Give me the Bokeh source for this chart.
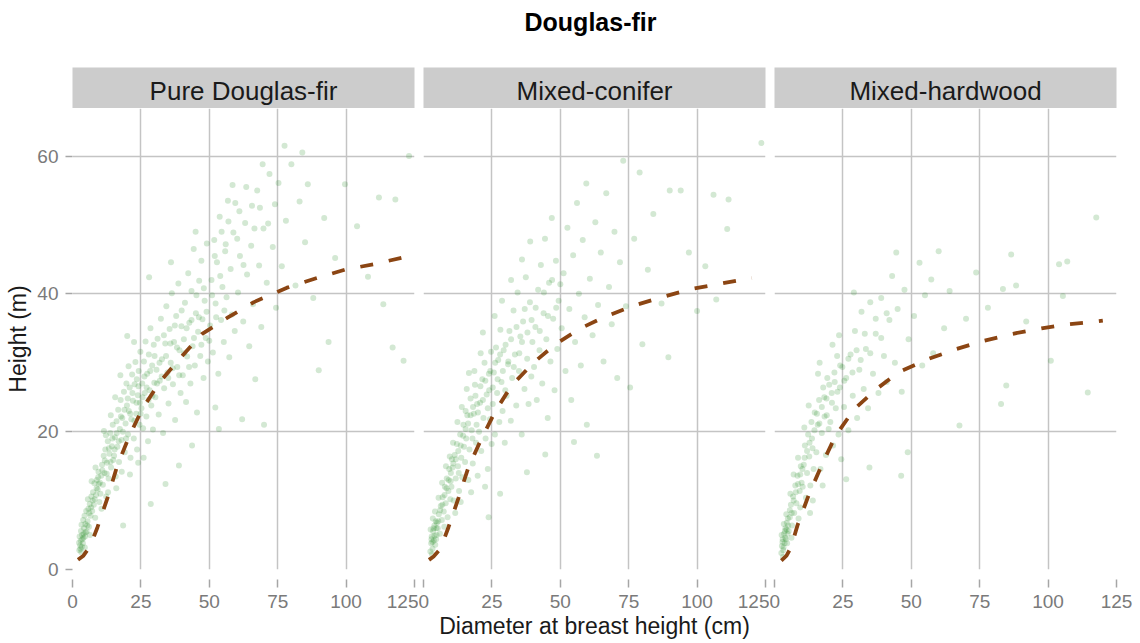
from bokeh.plotting import figure
from bokeh.layouts import column, row
from bokeh.models import Range1d, FixedTicker, Label
from bokeh.embed import file_html
from bokeh.resources import INLINE

TITLE = "Douglas-fir"
facets = ["Pure Douglas-fir", "Mixed-conifer", "Mixed-hardwood"]
x_ticks = [0, 25, 50, 75, 100, 125]
y_ticks = [0, 20, 40, 60]
x_title = "Diameter at breast height (cm)"
y_title = "Height (m)"

pure_points = [
    (2.5, 2.8), (2.8, 3.5), (3.0, 4.2), (3.2, 2.5), (3.5, 5.0), (3.8, 3.8), (4.0, 4.6), (4.2, 6.0), (4.5, 3.2), (4.8, 5.4),
    (2.6, 4.8), (3.3, 6.5), (3.9, 7.2), (4.4, 7.8), (2.9, 3.0), (3.6, 4.4), (4.7, 6.6), (2.4, 3.9), (5.0, 8.5), (3.1, 5.6),
    (5.2, 5.5), (5.5, 7.0), (5.8, 8.8), (6.0, 6.2), (6.3, 9.5), (6.6, 7.8), (6.9, 10.6), (7.2, 8.5), (7.5, 11.2), (7.8, 9.4),
    (8.0, 12.5), (8.3, 7.5), (8.6, 10.8), (8.9, 13.0), (9.2, 11.6), (9.5, 14.2), (9.8, 9.8), (5.6, 10.2), (7.0, 12.8), (8.4, 14.8),
    (9.6, 12.4), (6.4, 5.0),
    (10.2, 11.0), (10.5, 13.6), (10.8, 15.2), (11.1, 12.3), (11.4, 16.5), (11.7, 14.0), (12.0, 17.4), (12.3, 10.6), (12.6, 15.5),
    (12.9, 18.6), (13.2, 13.2), (13.5, 16.8), (13.8, 19.8), (14.1, 14.8), (14.4, 17.9), (14.7, 21.0), (11.5, 20.1), (10.6, 8.8),
    (13.0, 11.2), (14.9, 15.9), (12.2, 19.5), (14.0, 22.4),
    (15.2, 16.5), (15.5, 19.2), (15.8, 13.5), (16.1, 21.5), (16.4, 17.8), (16.7, 23.2), (17.0, 15.6), (17.3, 20.4), (17.6, 24.6),
    (17.9, 18.8), (18.2, 22.0), (18.5, 6.4), (18.8, 25.8), (19.1, 17.0), (19.4, 21.2), (19.7, 27.0), (16.0, 11.8), (18.0, 14.2),
    (19.9, 23.8), (15.6, 25.0), (17.5, 28.2), (20.0, 33.9),
    (20.3, 19.6), (20.6, 23.0), (20.9, 26.4), (21.2, 16.2), (21.5, 21.8), (21.8, 28.3), (22.1, 24.5), (22.4, 19.0), (22.7, 26.9),
    (23.0, 30.1), (23.3, 22.6), (23.6, 17.4), (23.9, 25.3), (24.2, 28.8), (24.5, 21.0), (24.8, 31.6), (21.0, 13.8), (22.5, 33.0),
    (24.0, 15.5), (23.5, 27.6), (20.5, 29.5), (24.6, 24.2),
    (25.2, 23.4), (25.5, 27.0), (25.8, 20.5), (26.1, 30.2), (26.4, 25.6), (26.7, 33.1), (27.0, 22.2), (27.3, 28.4), (27.6, 18.6),
    (27.9, 31.2), (28.2, 26.0), (28.5, 35.0), (28.8, 23.8), (29.1, 29.6), (29.4, 20.3), (29.7, 32.6), (28.0, 42.4), (28.6, 9.5),
    (26.0, 16.2), (29.9, 27.1),
    (30.3, 25.0), (30.7, 29.0), (31.1, 33.5), (31.5, 22.5), (31.9, 27.4), (32.3, 36.4), (32.7, 30.5), (33.1, 19.8), (33.5, 26.3),
    (33.9, 32.8), (34.0, 12.4), (34.3, 38.2), (34.7, 28.6), (35.1, 24.1), (35.5, 34.9), (35.9, 30.0), (36.3, 40.1), (36.7, 26.9),
    (37.1, 33.0), (37.5, 21.7), (37.9, 36.8), (38.3, 29.4), (38.7, 41.5), (38.9, 15.1), (39.1, 31.8), (39.5, 25.6), (39.8, 35.3),
    (36.0, 44.6),
    (40.3, 28.2), (40.7, 33.4), (41.1, 38.7), (41.5, 24.3), (41.9, 30.9), (42.3, 43.0), (42.7, 35.8), (43.1, 27.0), (43.5, 40.4),
    (43.7, 18.0), (43.9, 32.4), (44.3, 46.5), (44.7, 29.6), (45.0, 49.0), (45.1, 37.2), (45.5, 22.8), (45.9, 34.5), (46.3, 41.9),
    (46.7, 31.0), (47.1, 44.8), (47.5, 36.3), (47.9, 27.8), (48.3, 39.0), (48.7, 33.6), (49.1, 47.3), (49.5, 30.2),
    (50.3, 35.4), (50.8, 42.0), (51.3, 31.5), (51.8, 47.8), (52.2, 23.5), (52.3, 38.6), (52.8, 44.6), (53.3, 28.4), (53.5, 20.4),
    (53.8, 51.2), (54.3, 36.2), (54.8, 41.0), (55.3, 33.0), (55.8, 46.2), (56.3, 39.5), (56.8, 53.5), (57.3, 30.8), (57.8, 43.6),
    (58.3, 37.0), (58.8, 48.9), (59.5, 53.2), (59.3, 34.6),
    (52.0, 45.5), (54.5, 49.0), (57.0, 50.5), (61.0, 52.0), (63.5, 55.5), (66.5, 49.5), (68.5, 52.5), (71.5, 50.2), (74.0, 53.0),
    (58.5, 55.8), (62.5, 44.2), (69.5, 58.8), (77.5, 61.5), (84.0, 60.5), (56.0, 47.2), (60.2, 48.0),
    (60.5, 40.2), (61.2, 45.5), (62.0, 21.8), (62.4, 36.0), (63.1, 50.3), (63.8, 42.8), (64.6, 32.4), (65.3, 47.0), (65.6, 52.8),
    (66.0, 38.5), (66.8, 27.6), (67.5, 55.0), (68.2, 44.1), (69.0, 35.2), (69.8, 49.5), (70.0, 21.0), (71.0, 41.6), (72.0, 57.4),
    (73.2, 46.8), (74.4, 38.0), (75.3, 56.1),
    (76.5, 44.0), (78.0, 50.6), (80.0, 58.8), (81.5, 41.2), (83.0, 53.4), (85.0, 47.5), (86.0, 55.9), (88.0, 39.4), (90.0, 28.9),
    (92.0, 51.0), (93.6, 33.0), (96.0, 45.2), (99.6, 55.9), (104.0, 49.8), (108.0, 42.5), (112.0, 54.0), (113.6, 38.5),
    (117.0, 32.2), (118.0, 53.7), (121.0, 30.3), (123.0, 60.0),
    (3.4, 3.3), (4.1, 5.2), (4.6, 4.8), (5.4, 6.4), (6.1, 8.2), (6.8, 9.0), (7.4, 10.0), (8.1, 10.2), (8.8, 11.8), (9.4, 13.4),
    (10.0, 12.6), (10.9, 14.4), (11.8, 15.8), (12.5, 13.9), (13.3, 17.6), (13.9, 15.6), (14.6, 19.0), (15.4, 17.4), (16.2, 19.8),
    (16.9, 18.6), (17.7, 22.2), (18.4, 20.0), (19.0, 23.2), (19.6, 19.0), (20.2, 24.8), (21.1, 22.6), (21.9, 25.6), (22.6, 21.6),
    (23.4, 24.2), (24.1, 26.6), (24.9, 22.6), (25.6, 25.0), (26.3, 28.0), (27.1, 26.4), (27.8, 24.6), (28.4, 28.8), (29.2, 25.2),
    (30.0, 31.0), (30.9, 27.0), (31.8, 30.0), (32.6, 28.0), (33.4, 34.0), (34.2, 31.0), (35.0, 27.8), (35.8, 32.8), (36.6, 29.2),
    (37.4, 35.4), (38.2, 32.2), (39.0, 28.2), (39.9, 37.6), (40.8, 31.4), (41.7, 35.0), (42.6, 29.4), (43.5, 36.2), (44.4, 33.6),
    (45.3, 39.8), (46.2, 36.6), (47.1, 32.6), (48.0, 40.8), (49.0, 37.4), (50.0, 33.2), (51.0, 39.8), (52.5, 36.6), (54.0, 42.6),
    (55.5, 37.6),
]

conifer_points = [
    (2.5, 2.6), (2.8, 3.8), (3.0, 4.8), (3.3, 3.0), (3.5, 5.6), (3.8, 4.2), (4.0, 6.4), (4.3, 3.6), (4.5, 7.0), (4.8, 5.0),
    (2.6, 5.8), (3.4, 7.4), (4.2, 8.4), (4.9, 6.8), (3.1, 2.2), (3.7, 6.0), (2.9, 4.4), (4.6, 4.4),
    (5.2, 6.0), (5.6, 8.0), (6.0, 5.2), (6.3, 9.2), (6.7, 7.2), (7.0, 10.5), (7.4, 8.4), (7.8, 12.0), (8.1, 9.6), (8.5, 13.2),
    (8.8, 7.6), (9.1, 11.4), (9.4, 14.6), (9.8, 10.2), (5.5, 10.4), (6.8, 12.6), (8.2, 15.0), (9.6, 16.4), (7.6, 6.2), (9.9, 12.8),
    (10.2, 12.0), (10.6, 14.8), (11.0, 10.0), (11.4, 16.6), (11.8, 13.2), (12.2, 18.2), (12.6, 15.0), (13.0, 11.4), (13.4, 19.6),
    (13.8, 16.2), (14.2, 13.4), (14.6, 21.0), (10.8, 18.4), (12.4, 21.4), (14.0, 23.6), (11.6, 8.2), (13.6, 9.8), (14.8, 17.8),
    (12.9, 14.0), (10.4, 16.0),
    (15.2, 15.6), (15.6, 19.0), (16.0, 22.4), (16.4, 13.0), (16.8, 17.4), (17.2, 24.8), (17.6, 20.2), (18.0, 15.4), (18.4, 22.6),
    (18.8, 26.8), (19.2, 18.4), (19.6, 24.0), (15.8, 26.2), (17.4, 11.2), (18.6, 28.8), (19.8, 13.6), (16.6, 28.5), (19.4, 21.0),
    (15.4, 23.0), (17.9, 19.0),
    (20.3, 20.0), (20.7, 24.2), (21.1, 17.2), (21.5, 27.6), (21.9, 22.0), (22.3, 30.0), (22.7, 19.0), (23.1, 25.4), (23.5, 14.6),
    (23.9, 28.4), (23.8, 7.6), (24.3, 21.8), (24.7, 31.6), (20.9, 31.4), (22.5, 12.0), (24.0, 26.0), (21.7, 34.4), (24.9, 18.2),
    (25.3, 24.0), (25.7, 28.6), (26.1, 19.6), (26.5, 32.2), (26.9, 25.6), (27.3, 30.4), (27.7, 21.4), (28.0, 11.0), (28.1, 34.8),
    (28.5, 27.2), (28.9, 23.0), (29.3, 31.8), (29.7, 18.4), (26.0, 36.8), (28.7, 39.0), (29.9, 26.0),
    (30.4, 25.2), (30.9, 29.8), (31.4, 34.6), (31.9, 21.6), (32.4, 27.8), (32.9, 37.6), (33.4, 31.2), (33.9, 23.8), (34.4, 40.2),
    (34.9, 28.8), (35.4, 33.8), (35.9, 19.6), (36.4, 36.0), (36.9, 26.2), (37.4, 42.4), (37.8, 14.1), (37.9, 30.6), (38.4, 24.0),
    (38.9, 38.8), (39.4, 28.0), (39.8, 33.0), (32.0, 42.0), (36.0, 45.0), (39.0, 47.6),
    (40.4, 29.4), (40.9, 35.2), (41.4, 24.6), (41.9, 40.6), (42.4, 31.8), (42.9, 44.2), (43.4, 27.0), (43.9, 37.2), (44.5, 16.7),
    (44.4, 48.0), (44.9, 33.4), (45.4, 22.0), (45.9, 41.6), (46.4, 30.2), (46.9, 51.0), (47.4, 36.4), (47.9, 26.0), (48.4, 44.8),
    (48.9, 32.0), (49.4, 39.0),
    (50.5, 35.0), (51.2, 43.0), (51.9, 28.8), (52.6, 49.6), (53.3, 37.8), (54.0, 24.6), (54.7, 45.6), (55.4, 33.0), (56.1, 53.2),
    (56.8, 40.0), (57.5, 29.6), (58.2, 47.8), (58.9, 36.6), (59.7, 21.0), (59.5, 56.0), (55.0, 18.5),
    (60.8, 42.2), (61.8, 34.0), (62.8, 50.4), (63.4, 16.5), (63.8, 38.4), (64.8, 46.0), (65.8, 30.2), (66.8, 54.6), (67.8, 41.0),
    (68.8, 35.6), (69.8, 49.0), (70.8, 27.8), (71.8, 44.6), (73.0, 59.3), (74.0, 38.2), (75.5, 26.4),
    (77.0, 48.0), (79.0, 57.6), (80.0, 32.7), (82.0, 43.5), (84.0, 51.6), (87.0, 38.6), (89.5, 30.8), (90.0, 55.0), (94.0, 55.0),
    (97.0, 46.0), (100.0, 37.5), (103.0, 44.0), (106.0, 54.4), (107.0, 39.2), (111.0, 49.4), (111.5, 53.7), (123.5, 61.9),
    (3.3, 4.0), (4.0, 4.9), (4.7, 6.0), (5.4, 7.0), (6.1, 8.6), (6.9, 9.4), (7.7, 10.8), (8.4, 11.8), (9.2, 13.0), (10.0, 14.0),
    (10.9, 15.4), (11.8, 16.0), (12.7, 17.2), (13.6, 18.0), (14.5, 19.4), (15.4, 20.4), (16.3, 21.2), (17.2, 22.4), (18.1, 23.6),
    (19.0, 25.2), (19.9, 22.8), (20.8, 26.6), (21.7, 24.6), (22.6, 27.4), (23.5, 23.4), (24.4, 28.8), (25.3, 26.4), (26.2, 30.0),
    (27.1, 27.6), (28.0, 31.2), (29.0, 28.8), (30.0, 32.6), (31.0, 30.2), (32.0, 33.4), (33.0, 29.4), (34.0, 35.2), (35.0, 31.4),
    (36.0, 33.0), (37.0, 37.8), (38.0, 34.4), (39.5, 36.2), (41.0, 38.0), (42.5, 34.6), (44.0, 40.2), (45.5, 36.8), (47.0, 42.0),
    (48.5, 38.0), (50.0, 41.4),
]

hardwood_points = [
    (2.5, 2.4), (2.7, 3.4), (3.0, 4.4), (3.2, 2.8), (3.5, 5.2), (3.7, 3.8), (4.0, 6.0), (4.2, 4.4), (4.5, 6.8), (4.8, 5.2),
    (2.6, 5.0), (3.4, 6.6), (4.3, 8.0), (4.9, 7.4), (3.1, 1.8), (3.8, 5.6), (2.9, 4.0), (4.6, 3.8),
    (5.2, 5.6), (5.6, 7.6), (6.0, 9.4), (6.4, 6.4), (6.8, 10.6), (7.2, 8.2), (7.6, 12.2), (8.0, 9.6), (8.4, 13.6), (8.8, 7.4),
    (9.2, 11.4), (9.6, 15.0), (5.8, 11.0), (7.0, 13.8), (8.6, 16.2), (9.9, 12.6), (6.2, 4.6), (9.4, 9.0),
    (10.3, 12.0), (10.7, 15.2), (11.1, 18.0), (11.5, 10.4), (11.9, 14.0), (12.3, 19.6), (12.7, 16.4), (13.1, 12.2), (13.5, 21.4),
    (13.9, 17.6), (14.3, 14.6), (14.7, 22.8), (10.9, 20.6), (12.5, 23.8), (14.0, 10.0), (13.0, 8.2),
    (15.3, 17.0), (15.8, 21.0), (16.3, 24.6), (16.8, 14.6), (17.3, 19.8), (17.8, 26.4), (18.3, 22.2), (18.8, 16.6), (19.3, 27.8),
    (19.8, 20.4), (15.9, 28.4), (17.6, 12.2), (19.0, 24.8), (16.5, 30.0),
    (20.4, 21.4), (20.9, 25.6), (21.4, 18.0), (21.9, 28.6), (22.4, 23.4), (22.9, 31.0), (23.4, 19.6), (23.9, 26.4), (24.4, 16.0),
    (24.8, 29.4), (21.2, 32.6), (23.6, 34.0),
    (25.4, 23.6), (26.2, 27.8), (26.2, 13.1), (27.0, 20.2), (27.8, 31.2), (28.6, 25.2), (29.4, 34.6), (30.2, 22.0), (31.0, 29.0),
    (31.8, 37.4), (32.6, 26.2), (33.4, 32.0), (34.2, 23.4), (34.7, 14.8), (35.0, 38.8), (29.0, 40.2),
    (36.0, 28.4), (37.0, 34.2), (38.0, 25.6), (39.0, 39.4), (40.0, 31.0), (41.0, 27.2), (42.0, 36.2), (43.0, 42.6), (44.0, 30.0),
    (45.0, 37.8), (46.3, 13.6), (46.5, 25.8), (47.5, 40.6), (48.7, 17.0), (49.0, 33.4), (44.5, 46.0),
    (51.0, 36.8), (53.0, 44.5), (54.0, 29.6), (55.0, 39.8), (57.3, 42.1), (58.0, 31.4), (60.0, 46.2), (62.0, 35.0), (64.0, 40.4),
    (67.6, 20.9), (70.0, 36.4), (73.7, 43.1),
    (78.0, 38.0), (82.8, 24.0), (83.5, 40.7), (84.7, 26.7), (86.5, 45.7), (88.3, 41.2), (92.0, 36.0), (101.0, 30.3),
    (104.0, 44.3), (105.4, 39.7), (107.0, 44.7), (114.5, 25.7), (117.6, 51.1),
    (3.3, 3.2), (3.9, 4.6), (4.4, 5.8), (5.0, 6.4), (5.6, 8.6), (6.3, 8.2), (7.0, 10.0), (7.8, 11.2), (8.6, 12.4), (9.4, 13.8),
    (10.2, 14.6), (11.0, 16.2), (11.9, 17.2), (12.8, 18.4), (13.7, 19.0), (14.6, 20.2), (15.5, 22.6), (16.4, 21.2), (17.3, 23.6),
    (18.2, 25.0), (19.1, 22.4), (20.0, 26.8), (21.0, 24.2), (22.0, 27.2), (23.0, 25.8), (24.0, 29.6), (25.5, 27.4), (27.0, 30.6),
    (28.5, 28.6), (30.0, 31.8), (31.5, 30.4), (33.0, 34.2), (35.0, 31.4), (37.0, 36.4), (39.0, 33.6), (41.0, 37.2),
]

# fitted height-diameter curves
pure_fit_dbh = [2.0, 4.0, 6.5, 9.1, 12.8, 16.4, 20.8, 25.5, 31.7, 39.4, 47.4, 56.5, 66.3, 78.4, 89.3, 99.5, 110.0, 121.0]
pure_fit_ht = [1.4, 2.0, 3.4, 6.1, 10.4, 15.1, 19.4, 23.3, 27.1, 30.7, 34.2, 36.5, 38.8, 40.9, 42.3, 43.5, 44.3, 45.3]
conifer_fit_dbh = [2.0, 3.7, 6.2, 9.1, 12.8, 16.4, 21.2, 26.3, 32.2, 40.2, 48.6, 57.4, 66.5, 76.8, 87.0, 97.9, 108.9, 120.0]
conifer_fit_ht = [1.4, 1.9, 3.0, 6.1, 10.4, 14.8, 19.0, 23.0, 26.7, 30.0, 32.8, 35.0, 36.7, 38.3, 39.5, 40.7, 41.5, 42.3]
hardwood_fit_dbh = [2.5, 4.4, 6.0, 8.4, 12.4, 17.2, 22.3, 29.2, 37.3, 45.7, 55.9, 66.5, 76.7, 87.0, 97.6, 107.8, 118.0, 120.0]
hardwood_fit_ht = [1.3, 2.0, 3.2, 6.4, 10.7, 15.1, 19.4, 23.3, 26.2, 28.7, 30.5, 32.0, 33.2, 34.2, 35.0, 35.6, 36.0, 36.1]

FONT = "Liberation Sans"
GRID = "#C4C4C4"
TICK = "#A6A6A6"
TICK_LABEL = "#7A7A7A"
STRIP = "#CCCCCC"
POINT = "#228B22"
CURVE = "#8B4513"

X_MIN, X_MAX = 0, 125
Y_MIN, Y_MAX = 0, 66.9

# (border_left, border_right) for each facet column
borders = [(72, 4), (5, 4), (5, 20)]
FRAME_W = 342
TITLE_H = 67
STRIP_H = 41
PANEL_H = 534
FRAME_H = 461


def make_title():
    total_w = sum(FRAME_W + l + r for l, r in borders)
    t = figure(width=total_w, height=TITLE_H,
               toolbar_location=None, output_backend="svg",
               x_axis_location=None, y_axis_location=None,
               min_border_left=44, min_border_right=0, min_border_top=0, min_border_bottom=0,
               outline_line_color=None, title=TITLE)
    t.xgrid.grid_line_color = None
    t.ygrid.grid_line_color = None
    t.title.align = "center"
    t.title.vertical_align = "middle"
    t.title.standoff = 12
    t.title.text_font = FONT
    t.title.text_font_size = "25px"
    t.title.text_font_style = "bold"
    t.title.text_color = "#000000"
    return t


def make_strip(label, bl, br):
    s = figure(width=FRAME_W + bl + br, height=STRIP_H,
               x_range=Range1d(X_MIN, X_MAX), y_range=Range1d(0, 1),
               toolbar_location=None, output_backend="svg",
               x_axis_location=None, y_axis_location=None,
               min_border_left=bl, min_border_right=br, min_border_top=0, min_border_bottom=0,
               background_fill_color=STRIP, outline_line_color=None)
    s.xgrid.grid_line_color = None
    s.ygrid.grid_line_color = None
    s.add_layout(Label(x=(X_MIN + X_MAX) / 2, y=0.42, text=label, text_align="center",
                       text_baseline="middle", text_font=FONT, text_font_size="26px",
                       text_color="#1A1A1A"))
    return s


def make_panel(points, fit_x, fit_y, bl, br, show_y, show_xlabel):
    p = figure(width=FRAME_W + bl + br, height=PANEL_H,
               x_range=Range1d(X_MIN, X_MAX), y_range=Range1d(Y_MIN, Y_MAX),
               toolbar_location=None, output_backend="svg",
               y_axis_location="left" if show_y else None,
               min_border_left=bl, min_border_right=br, min_border_top=0,
               min_border_bottom=PANEL_H - FRAME_H,
               outline_line_color=None, background_fill_color="white")
    xs = [pt[0] for pt in points]
    ys = [pt[1] for pt in points]
    p.scatter(xs, ys, size=6, fill_color=POINT, fill_alpha=0.2, line_color=None)
    p.line(fit_x, fit_y, line_color=CURVE, line_width=3.8, line_dash="13 16")

    p.xgrid.ticker = FixedTicker(ticks=x_ticks)
    p.ygrid.ticker = FixedTicker(ticks=y_ticks)
    p.xgrid.grid_line_color = GRID
    p.ygrid.grid_line_color = GRID
    p.xgrid.grid_line_width = 1.5
    p.ygrid.grid_line_width = 1.5

    xa = p.xaxis[0]
    xa.ticker = FixedTicker(ticks=x_ticks)
    xa.axis_line_color = None
    xa.major_tick_line_color = TICK
    xa.major_tick_line_width = 1.5
    xa.major_tick_in = -10
    xa.major_tick_out = 18
    xa.minor_tick_line_color = None
    xa.major_label_standoff = 7
    xa.major_label_text_font = FONT
    xa.major_label_text_font_size = "19px"
    xa.major_label_text_color = TICK_LABEL
    if show_xlabel:
        xa.axis_label = x_title
        xa.axis_label_standoff = 2
        xa.axis_label_text_font = FONT
        xa.axis_label_text_font_size = "23px"
        xa.axis_label_text_font_style = "normal"
        xa.axis_label_text_color = "#1A1A1A"

    if show_y:
        ya = p.yaxis[0]
        ya.ticker = FixedTicker(ticks=y_ticks)
        ya.axis_line_color = None
        ya.major_tick_line_color = TICK
        ya.major_tick_line_width = 1.5
        ya.major_tick_in = 0
        ya.major_tick_out = 7
        ya.minor_tick_line_color = None
        ya.major_label_standoff = 7
        ya.major_label_text_font = FONT
        ya.major_label_text_font_size = "19px"
        ya.major_label_text_color = TICK_LABEL
        ya.axis_label = y_title
        ya.axis_label_standoff = 3
        ya.axis_label_text_font = FONT
        ya.axis_label_text_font_size = "23px"
        ya.axis_label_text_font_style = "normal"
        ya.axis_label_text_color = "#1A1A1A"
    return p


data = [
    (pure_points, pure_fit_dbh, pure_fit_ht),
    (conifer_points, conifer_fit_dbh, conifer_fit_ht),
    (hardwood_points, hardwood_fit_dbh, hardwood_fit_ht),
]

strips = [make_strip(lab, bl, br) for lab, (bl, br) in zip(facets, borders)]
panels = [make_panel(pts, fx, fy, bl, br, i == 0, i == 1)
          for i, ((pts, fx, fy), (bl, br)) in enumerate(zip(data, borders))]

layout = column(make_title(), row(*strips), row(*panels))

open("out.html", "w").write(file_html(layout, INLINE))
